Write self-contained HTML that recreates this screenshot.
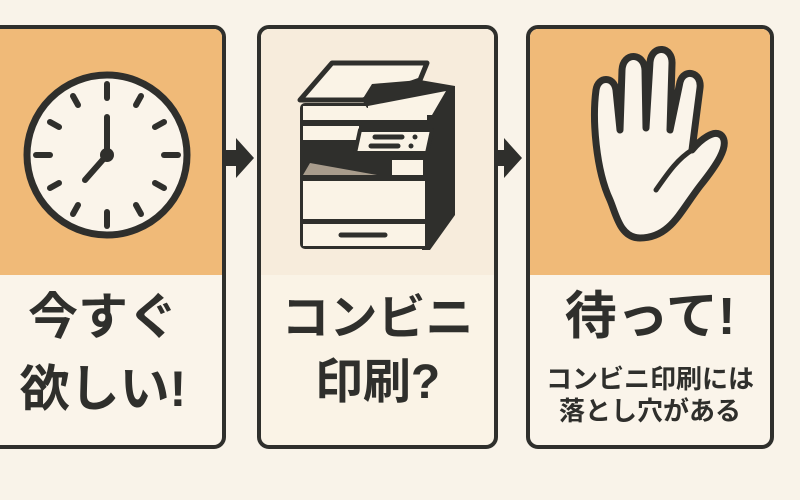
<!DOCTYPE html>
<html><head><meta charset="utf-8"><style>
body{margin:0;width:800px;height:500px;background:#f9f3e9;overflow:hidden;position:relative;font-family:"Liberation Sans","Noto Sans CJK JP",sans-serif;}
.p{position:absolute;top:25px;height:416px;border:4px solid #2f2f2c;border-radius:12px;overflow:hidden;background:#faf4ea;box-sizing:content-box}
.top{position:absolute;left:0;right:0;top:0;height:246px;background:#f0ba78}
.t{position:absolute;left:0;right:0;text-align:center;font-weight:bold;color:#2f2f2c;white-space:nowrap}
svg{position:absolute;left:0;top:0}
</style></head><body>
<div class="p" style="left:-20px;width:238px"><div class="top"></div>
<div class="t" style="top:252px;font-size:50px;line-height:72px;padding-left:0px">今すぐ<br>欲しい!</div></div>
<div class="p" style="left:257px;width:233px;background:#faf3e6"><div class="top" style="background:#f7ecdc"></div>
<div class="t" style="top:258px;font-size:48px;line-height:64px">コンビニ<br>印刷?</div></div>
<div class="p" style="left:526px;width:240px"><div class="top"></div>
<div class="t" style="top:258px;font-size:52px;line-height:60px">待って!</div>
<div class="t" style="top:334px;font-size:26px;line-height:32px">コンビニ印刷には<br>落とし穴がある</div></div>
<svg width="800" height="500" viewBox="0 0 800 500">
<g fill="#2f2f2c">
<rect x="224" y="150" width="14" height="16"/><polygon points="236,138 254,158 236,178"/>
<rect x="494" y="150" width="12" height="16"/><polygon points="504,138 522,158 504,178"/>
</g>
<g stroke="#2f2f2c" stroke-linecap="round" fill="none">
<circle cx="107" cy="155" r="80" fill="#faf4ea" stroke-width="7"/>
<g stroke-width="6">
<line x1="107" y1="84" x2="107" y2="98"/><line x1="107" y1="212" x2="107" y2="226"/>
<line x1="36" y1="155" x2="50" y2="155"/><line x1="164" y1="155" x2="178" y2="155"/>
<line x1="73" y1="96" x2="78" y2="105"/><line x1="141" y1="96" x2="136" y2="105"/>
<line x1="73" y1="214" x2="78" y2="205"/><line x1="141" y1="214" x2="136" y2="205"/>
<line x1="50" y1="122" x2="59" y2="127"/><line x1="164" y1="122" x2="155" y2="127"/>
<line x1="50" y1="188" x2="59" y2="183"/><line x1="164" y1="188" x2="155" y2="183"/>
<line x1="107" y1="117" x2="107" y2="155"/><line x1="107" y1="155" x2="85" y2="180"/>
</g></g>
<circle cx="107" cy="155" r="7" fill="#2f2f2c"/>
<!-- printer -->
<polygon points="422,86 455,86 455,215 430,250 422,250" fill="#2f2f2c"/>
<rect x="300" y="103" width="130" height="146" rx="5" fill="#2f2f2c"/>
<rect x="303" y="106" width="124" height="14" fill="#faf3e6"/>
<rect x="303" y="126" width="56" height="14" fill="#faf3e6"/>
<polygon points="303,175 310,163 377,175" fill="#a89c8c"/>
<rect x="392" y="160" width="31" height="15" fill="#faf3e6"/>
<rect x="303" y="181" width="122" height="38" fill="#faf3e6"/>
<rect x="303" y="224" width="122" height="22" fill="#faf3e6"/>
<line x1="341" y1="235" x2="385" y2="235" stroke="#2f2f2c" stroke-width="5" stroke-linecap="round"/>
<polygon points="300,100 332,63 427,63 420,80 363,100" fill="#faf3e6" stroke="#2f2f2c" stroke-width="5" stroke-linejoin="round"/>
<polygon points="362,100 372,84 420,80 455,86 455,92 367,108" fill="#2f2f2c"/>
<polygon points="368,106 446,91 432,115 368,115" fill="#faf3e6"/>
<polygon points="360,130 432,130 427,153 355,153" fill="#faf3e6" stroke="#2f2f2c" stroke-width="4" stroke-linejoin="round"/>
<g stroke="#2f2f2c" stroke-width="5" stroke-linecap="round"><line x1="375" y1="137" x2="402" y2="137"/><line x1="371" y1="146" x2="398" y2="146"/></g>
<circle cx="415" cy="137" r="2.5" fill="#2f2f2c"/><circle cx="411" cy="146" r="2.5" fill="#2f2f2c"/>
<!-- hand -->
<path d="M610,200 C596,170 592,120 596,90 C598,76 614,76 616,90 L620,130 L622,70 C623,52 644,52 645,70 L646,128 L650,62 C652,44 673,46 672,64 L670,130 L680,82 C684,68 702,72 700,88 L692,150 C700,140 715,128 722,136 C730,146 716,166 700,186 C680,212 670,238 640,238 C620,238 616,214 610,200 Z" fill="#faf4ea" stroke="#2f2f2c" stroke-width="7" stroke-linejoin="round"/>
<g stroke="#2f2f2c" stroke-width="5" stroke-linecap="round" fill="none"><path d="M692,150 C676,160 666,176 656,190"/></g>
</svg>
</body></html>
